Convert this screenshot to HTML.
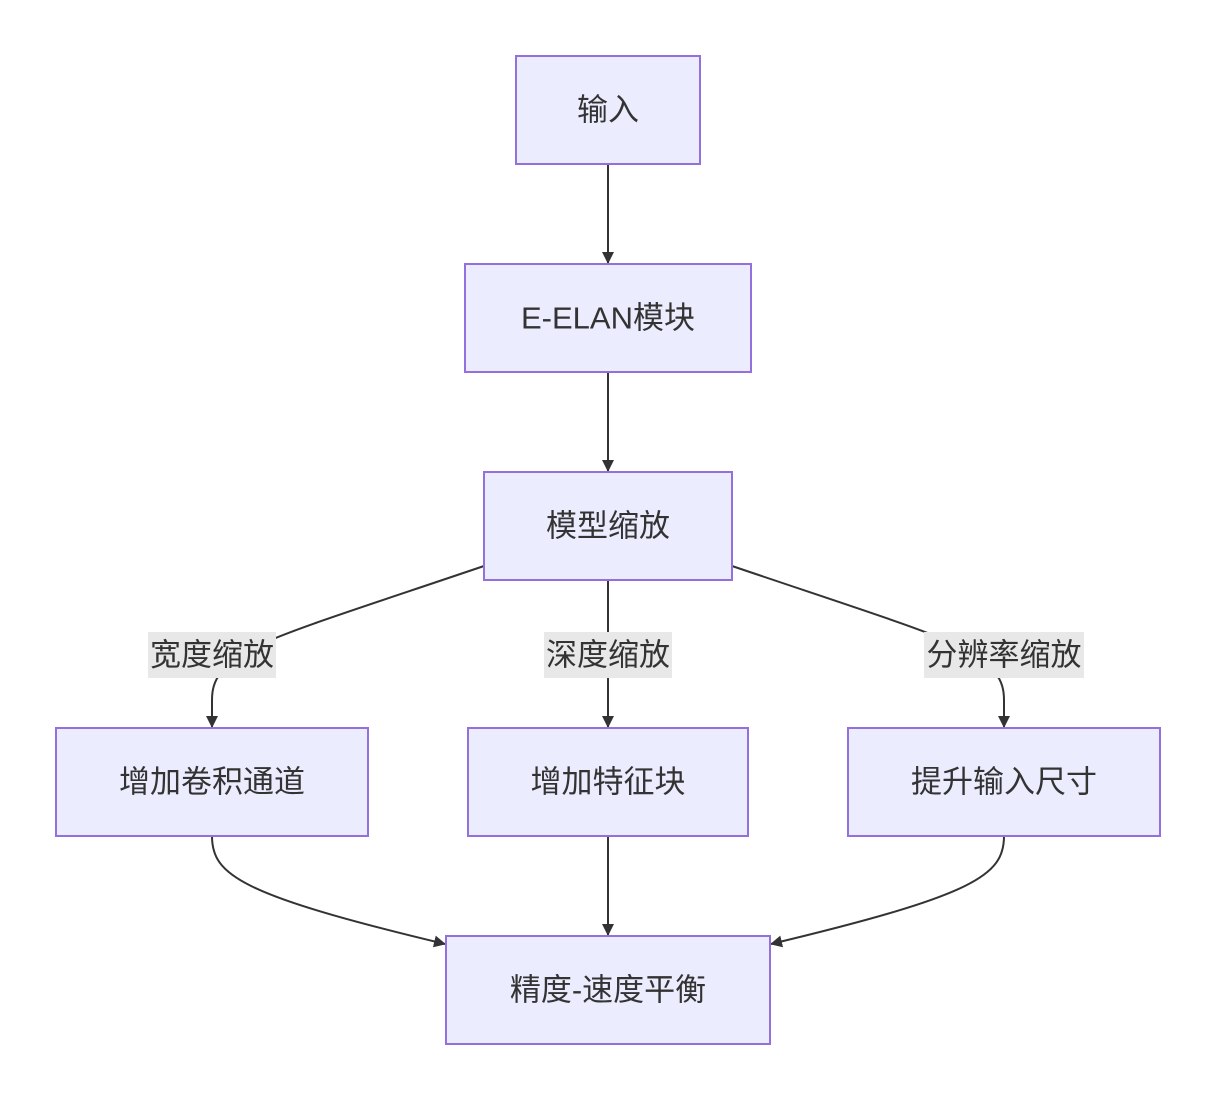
<!DOCTYPE html>
<html><head><meta charset="utf-8"><style>
html,body{margin:0;padding:0;background:#fff;}
svg text{font-family:"Liberation Sans","Noto Sans CJK SC",sans-serif;font-size:31px;fill:#333;}
</style></head><body>
<svg width="1216" height="1100" viewBox="0 0 1216 1100" xmlns="http://www.w3.org/2000/svg">
<defs>
<marker id="a" viewBox="0 0 12 12" refX="11" refY="6" markerWidth="12" markerHeight="12" markerUnits="userSpaceOnUse" orient="auto">
<path d="M0,0 L12,6 L0,12 z" fill="#333"/></marker>
</defs>
<g fill="none" stroke="#333" stroke-width="2">
<path d="M608,164 L608,263" marker-end="url(#a)"/>
<path d="M608,372 L608,471" marker-end="url(#a)"/>
<path d="M608,580 L608,727" marker-end="url(#a)"/>
<path d="M608,836 L608,935" marker-end="url(#a)"/>
<path d="M484,566 C360,608 290,630 260,645 C220,665 212,680 212,700 L212,727" marker-end="url(#a)"/>
<path d="M732,566 C856,608 926,630 956,645 C996,665 1004,680 1004,700 L1004,727" marker-end="url(#a)"/>
<path d="M212,836 C212,875 240,895 445,944" marker-end="url(#a)"/>
<path d="M1004,836 C1004,875 976,895 771,944" marker-end="url(#a)"/>
</g>
<g fill="#ECECFF" stroke="#9370DB" stroke-width="2">
<rect x="516" y="56" width="184" height="108"/>
<rect x="465" y="264" width="286" height="108"/>
<rect x="484" y="472" width="248" height="108"/>
<rect x="56" y="728" width="312" height="108"/>
<rect x="468" y="728" width="280" height="108"/>
<rect x="848" y="728" width="312" height="108"/>
<rect x="446" y="936" width="324" height="108"/>
</g>
<g fill="#e8e8e8">
<rect x="148" y="632" width="128" height="46"/>
<rect x="544" y="632" width="128" height="46"/>
<rect x="924" y="632" width="160" height="46"/>
</g>
<g text-anchor="middle" dominant-baseline="central">
<text x="608" y="110">输入</text>
<text x="608" y="318">E-ELAN模块</text>
<text x="608" y="526">模型缩放</text>
<text x="212" y="782">增加卷积通道</text>
<text x="608" y="782">增加特征块</text>
<text x="1004" y="782">提升输入尺寸</text>
<text x="608" y="990">精度-速度平衡</text>
<text x="212" y="655">宽度缩放</text>
<text x="608" y="655">深度缩放</text>
<text x="1004" y="655">分辨率缩放</text>
</g>
</svg>
</body></html>
